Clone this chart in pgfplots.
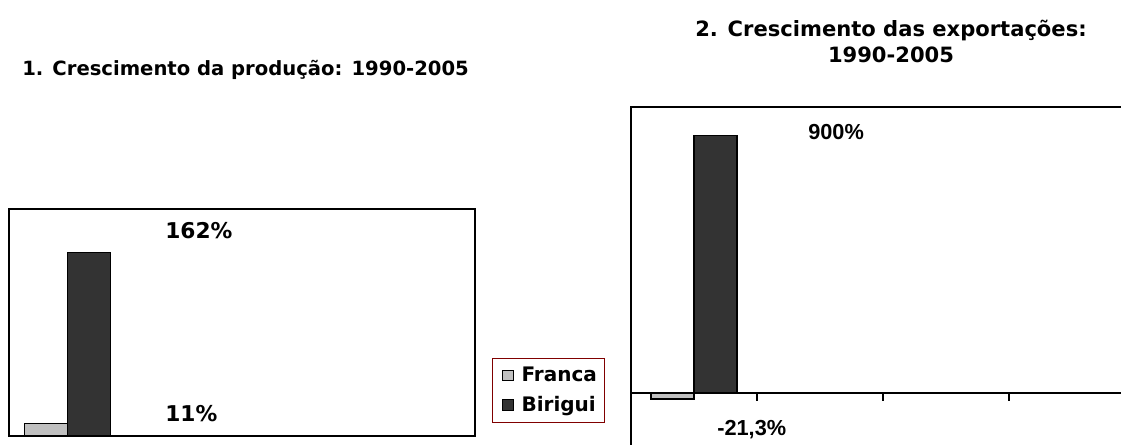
\documentclass[border=0pt]{standalone}
\usepackage{fontspec}
\usepackage{pgfplots}
\pgfplotsset{compat=1.18}
\setmainfont{DejaVu Sans}
\newfontfamily\arialfont{Liberation Sans}
\definecolor{franca}{HTML}{C0C0C0}
\definecolor{birigui}{HTML}{333333}
\definecolor{legred}{HTML}{800000}
\pgfplotstableread{
x franca birigui
0 11 162
}\prodtable
\pgfplotstableread{
x franca birigui
0 -21.3 900
}\exptable
\begin{document}
\begin{tikzpicture}
\pgfplotsset{
  barstyle/.style={ybar, bar width=32.25pt, draw=black, line width=0.9pt},
  sqlegend/.style={legend image code/.code={\path (0pt,0pt) (14.8pt,0pt); \draw[##1, draw=black, line width=0.6pt] (3.8pt,-4pt) rectangle (11.8pt,4pt);}},
}
% ---- Chart 1 ----
\begin{axis}[
  at={(6.75pt,6pt)}, anchor=south west,
  scale only axis, width=349.5pt, height=170.25pt,
  xmin=-0.5, xmax=3.5, ymin=0, ymax=200,
  xtick=\empty, ytick=\empty,
  axis line style={line width=1pt},
  clip=false,
  legend style={at={(1.0365,0.3436)}, anchor=north west, draw=legred, line width=0.9pt,
    font=\fontsize{15}{18}\selectfont\bfseries, inner xsep=3pt, inner ysep=4.5pt,
    row sep=5.5pt, cells={anchor=west}, nodes={inner xsep=3pt}},
  legend cell align=left,
]
\addplot[barstyle, fill=franca, bar shift=-16.125pt, sqlegend] table[x=x, y=franca] {\prodtable};
\addlegendentry{Franca}
\addplot[barstyle, fill=birigui, bar shift=16.125pt, sqlegend] table[x=x, y=birigui] {\prodtable};
\addlegendentry{Birigui}
\node[anchor=west, inner sep=0pt, font=\fontsize{16.3}{19}\selectfont\bfseries] at (axis cs:0.839,181) {162\%};
\node[anchor=west, inner sep=0pt, font=\fontsize{16.3}{19}\selectfont\bfseries] at (axis cs:0.839,20) {11\%};
\end{axis}
\node[anchor=base west, inner sep=0pt, font=\fontsize{14.7}{18}\selectfont\bfseries] at (16.5pt,276.75pt) {1. Crescimento da produção: 1990-2005};
% ---- Chart 2 ----
\begin{axis}[
  at={(473.25pt,-4.5pt)}, anchor=south west,
  scale only axis, width=378pt, height=257.25pt,
  xmin=-0.5, xmax=3.5, ymin=-200, ymax=1000,
  xtick=\empty, ytick=\empty,
  axis line style={line width=1pt},
  clip=false,
]
\addplot[barstyle, fill=franca, bar shift=-16.125pt] table[x=x, y=franca] {\exptable};
\addplot[barstyle, fill=birigui, bar shift=16.125pt] table[x=x, y=birigui] {\exptable};
\draw[line width=1pt] (axis cs:-0.5,0) -- (axis cs:3.5,0);
\draw[line width=1pt] (axis cs:0.5,0) -- ([yshift=-6pt]axis cs:0.5,0);
\draw[line width=1pt] (axis cs:1.5,0) -- ([yshift=-6pt]axis cs:1.5,0);
\draw[line width=1pt] (axis cs:2.5,0) -- ([yshift=-6pt]axis cs:2.5,0);
\node[anchor=west, inner sep=0pt, font=\arialfont\fontsize{16.3}{19}\selectfont\bfseries] at (axis cs:0.905,914) {900\%};
\node[anchor=west, inner sep=0pt, font=\arialfont\fontsize{16.3}{19}\selectfont\bfseries] at (axis cs:0.183,-129) {-21,3\%};
\end{axis}
\node[anchor=base, inner sep=0pt, font=\fontsize{15.8}{18}\selectfont\bfseries] at (668.25pt,305.25pt) {2. Crescimento das exportações:};
\node[anchor=base, inner sep=0pt, font=\fontsize{15.8}{18}\selectfont\bfseries] at (668.25pt,286.5pt) {1990-2005};
\pgfresetboundingbox
\path[use as bounding box] (0,0) rectangle (840.75pt,333pt);
\end{tikzpicture}
\end{document}
